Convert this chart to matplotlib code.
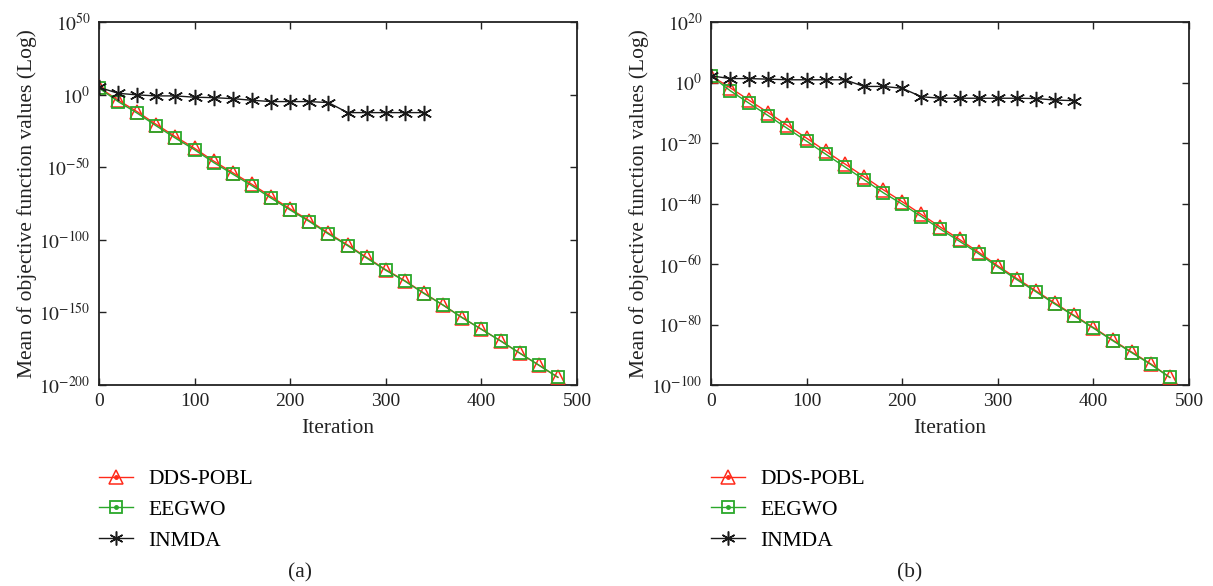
import numpy as np
import matplotlib
matplotlib.use("Agg")
import matplotlib.pyplot as plt
from matplotlib.lines import Line2D
from matplotlib.legend_handler import HandlerTuple

plt.rcParams['font.family'] = ['Liberation Serif', 'DejaVu Serif']
plt.rcParams['mathtext.fontset'] = 'stix'

iters_a = list(range(0, 481, 20))
# log10 values
dds_a_log = [5, -3.8, -11.8, -20.6, -29, -37, -45.8, -53.8, -61.8, -70.3, -78.7, -86.8,
             -95.4, -103.5, -112.1, -120.6, -128.2, -136.7, -145, -153.6, -161.6,
             -169.6, -178, -186.3, -194.7]
eegwo_a_log = [4.5, -4.8, -12.8, -21.6, -30, -38, -46.8, -54.8, -62.8, -71.3, -79.5, -87.4,
               -96, -104, -112.6, -121, -128.5, -137, -145, -153.7, -161.6,
               -169.6, -178, -186.3, -194.7]
inmda_a_iters = list(range(0, 341, 20))
inmda_a_log = [5, 0.9, -0.2, -0.9, -0.9, -1.8, -2.1, -2.8, -3.9, -4.8, -4.8, -4.8, -5.5,
               -12.4, -12.4, -12.4, -12.4, -12.4]

iters_b = list(range(0, 481, 20))
dds_b_log = [2.2, -1.7, -5.9, -10.0, -14.2, -18.4, -22.7, -26.9, -31.1, -35.4, -39.4, -43.6,
             -47.8, -51.9, -56.1, -60.6, -64.8, -68.9, -73.0, -77.0, -81.0, -85.1,
             -89.1, -93.0, -97.5]
eegwo_b_log = [2.2, -2.7, -6.9, -11.0, -15.2, -19.4, -23.7, -27.9, -32.1, -36.4, -40.2, -44.3,
               -48.5, -52.5, -56.6, -61.0, -65.2, -69.2, -73.3, -77.2, -81.2, -85.3,
               -89.3, -93.2, -97.5]
inmda_b_iters = list(range(0, 381, 20))
inmda_b_log = [2.2, 1.3, 1.3, 1.1, 0.9, 0.9, 0.9, 0.9, -1.3, -1.3, -1.9, -4.7, -5.2, -5.2,
               -5.2, -5.2, -5.2, -5.3, -5.8, -6.0]

names = ['DDS-POBL', 'EEGWO', 'INMDA']
RED = '#ff2a1a'
GREEN = '#2aa82a'
BLACK = '#1a1a1a'
TXT = '#222222'

W, H = 1213, 586
fig = plt.figure(figsize=(W / 100, H / 100), dpi=100)

def px_axes(x0, y0, x1, y1):
    return fig.add_axes([x0 / W, 1 - y1 / H, (x1 - x0) / W, (y1 - y0) / H])

axa = px_axes(99, 22, 577, 385)
axb = px_axes(711, 22, 1189, 385)

FS_T = 14
FS = 15.5

def draw(ax, it, dds, eeg, it_in, inm, ylim, yticks):
    ax.plot(it, 10.0 ** np.array(dds), color=RED, lw=1.0, marker='^', ms=10,
            mfc='none', mec=RED, mew=1.1, zorder=3)
    ax.plot(it, 10.0 ** np.array(eeg), color=GREEN, lw=1.0, marker='s', ms=9,
            mfc='none', mec=GREEN, mew=1.3, zorder=4)
    ax.plot(it_in, 10.0 ** np.array(inm), color=BLACK, lw=1.0, marker=(6, 2, 0), ms=11,
            mec=BLACK, mew=1.1, zorder=5)
    ax.set_yscale('log')
    ax.set_xlim(0, 500)
    ax.set_ylim(10.0 ** ylim[0], 10.0 ** ylim[1])
    ax.set_yticks([10.0 ** t for t in yticks])
    ax.set_yticklabels([r'$10^{%d}$' % t for t in yticks])
    ax.yaxis.set_minor_locator(matplotlib.ticker.NullLocator())
    ax.set_xticks([0, 100, 200, 300, 400, 500])
    ax.tick_params(direction='in', top=True, right=True, length=5, width=1,
                   labelsize=FS_T, colors=TXT, pad=6)
    for s in ax.spines.values():
        s.set_linewidth(1.3)
        s.set_color(TXT)
    ax.set_xlabel('Iteration', fontsize=FS, labelpad=6, color=TXT)
    ax.set_ylabel('Mean of objective function values (Log)', fontsize=FS,
                  labelpad=2, color=TXT)

draw(axa, iters_a, dds_a_log, eegwo_a_log, inmda_a_iters, inmda_a_log,
     (-200, 50), [50, 0, -50, -100, -150, -200])
draw(axb, iters_b, dds_b_log, eegwo_b_log, inmda_b_iters, inmda_b_log,
     (-100, 20), [20, 0, -20, -40, -60, -80, -100])

def legend_handles():
    h1 = (Line2D([], [], color=RED, lw=1.0, marker='^', ms=10, mfc='none', mec=RED, mew=1.1),
          Line2D([], [], ls='none', marker='.', ms=5, color=RED))
    h2 = (Line2D([], [], color=GREEN, lw=1.0, marker='s', ms=9, mfc='none', mec=GREEN, mew=1.3),
          Line2D([], [], ls='none', marker='.', ms=5, color=GREEN))
    h3 = (Line2D([], [], color=BLACK, lw=1.0, marker=(6, 2, 0), ms=10, mec=BLACK, mew=1.1),)
    return [h1, h2, h3]

for x0 in (99, 711):
    fig.legend(legend_handles(), names, loc='upper left',
               bbox_to_anchor=(x0 / W, 1 - 469 / H), frameon=False, fontsize=FS,
               handlelength=1.6, handletextpad=0.7, labelspacing=0.5,
               borderaxespad=0, borderpad=0,
               handler_map={tuple: HandlerTuple(ndivide=1, pad=0)})

fig.text(300 / W, 1 - 573 / H, '(a)', ha='center', va='center', fontsize=FS, color=TXT)
fig.text(910 / W, 1 - 573 / H, '(b)', ha='center', va='center', fontsize=FS, color=TXT)

fig.savefig('out.png', dpi=100, facecolor='white')
